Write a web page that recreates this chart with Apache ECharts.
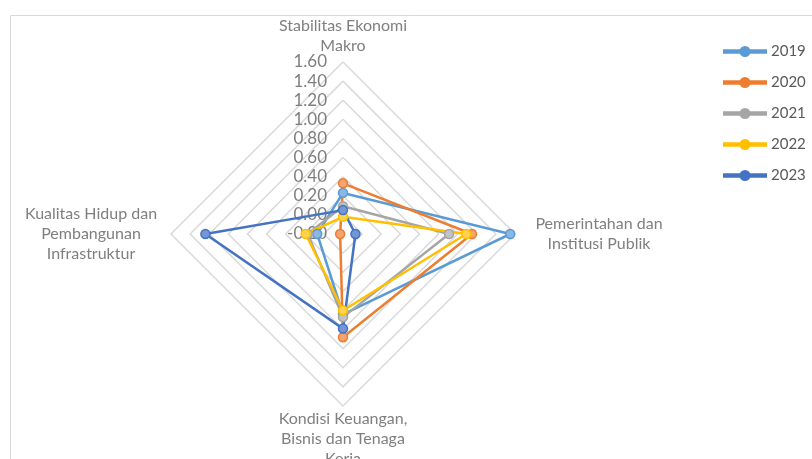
<!DOCTYPE html>
<html>
<head>
<meta charset="utf-8">
<script src="https://cdn.jsdelivr.net/npm/echarts@6/dist/echarts.min.js"></script>
<style>
html, body { margin: 0; padding: 0; background: #fff; }
#radar { width: 812px; height: 459px; }
</style>
</head>
<body>
<div id="radar"></div>
<script>
// indicators, counter-clockwise from the top
var indicators = [
    'Stabilitas Ekonomi\nMakro',
    'Kualitas Hidup dan\nPembangunan\nInfrastruktur',
    'Kondisi Keuangan,\nBisnis dan Tenaga\nKerja',
    'Pemerintahan dan\nInstitusi Publik'
];
var years = ['2019', '2020', '2021', '2022', '2023'];
// values per year, same order as indicators
var v2019 = [0.23, 0.07, 0.64, 1.55];
var v2020 = [0.33, -0.17, 0.88, 1.15];
var v2021 = [0.09, 0.17, 0.67, 0.91];
var v2022 = [-0.02, 0.19, 0.60, 1.09];
var v2023 = [0.05, 1.24, 0.79, -0.07];
var axisMin = -0.2, axisMax = 1.6, axisStep = 0.2;

var values = [v2019, v2020, v2021, v2022, v2023];
var colors = ['#5B9BD5', '#ED7D31', '#A5A5A5', '#FFC000', '#4472C4'];
var fills = ['#8AB8E3', '#F3A470', '#C3C3C3', '#FFD350', '#7496D4'];
var nameGaps = [26, 80, 3, 84];
var font = 'Lato, "Open Sans", sans-serif';
// line with a dot, for the legend
var legendIcon = 'path://M0,5.75 L42,5.75 L42,8.25 L0,8.25 Z M16.5,7 A4.5,4.5 0 1,1 25.5,7 A4.5,4.5 0 1,1 16.5,7 Z';

var dom = document.getElementById('radar');
var myChart = echarts.init(dom);
var option = null;
option = {
    animation: false,
    graphic: [{
        type: 'rect',
        left: 8, top: 13,
        shape: { width: 830, height: 470 },
        style: { fill: 'none', stroke: '#d9d9d9', lineWidth: 1 }
    }],
    legend: {
        orient: 'vertical',
        left: 718, top: 39,
        icon: legendIcon,
        itemWidth: 42, itemHeight: 14, itemGap: 16,
        textStyle: { color: '#595959', fontSize: 15, fontFamily: font },
        data: years.map(function (y, i) {
            return { name: y, itemStyle: { color: colors[i] } };
        })
    },
    radar: {
        center: [343, 234],
        radius: 172,
        shape: 'polygon',
        splitNumber: Math.round((axisMax - axisMin) / axisStep),
        axisName: {
            color: '#7f7f7f',
            fontSize: 16,
            fontFamily: font,
            lineHeight: 20
        },
        axisLine: { show: false },
        axisTick: { show: false },
        axisLabel: { show: false },
        splitArea: { show: false },
        splitLine: { lineStyle: { color: '#d9d9d9', width: 1.5 } },
        indicator: indicators.map(function (n, i) {
            var ind = { name: n, min: axisMin, max: axisMax, nameGap: nameGaps[i], nameMoveOverlap: false };
            if (i === 0) {
                ind.nameTextStyle = { verticalAlign: 'middle' };
                ind.axisLabel = {
                    show: true,
                    margin: 16,
                    color: '#7f7f7f',
                    fontSize: 17,
                    fontFamily: font,
                    formatter: function (v) { return v.toFixed(2); }
                };
            }
            if (i === 1 || i === 3) {
                ind.nameTextStyle = { align: 'center' };
            }
            return ind;
        })
    },
    series: [{
        type: 'radar',
        symbol: 'circle',
        symbolSize: 9,
        data: years.map(function (y, i) {
            return {
                name: y,
                value: values[i],
                lineStyle: { color: colors[i], width: 2.5 },
                itemStyle: { color: fills[i], borderColor: colors[i], borderWidth: 1.5 }
            };
        })
    }]
};
if (option && typeof option === 'object') {
    myChart.setOption(option, true);
}
</script>
</body>
</html>
